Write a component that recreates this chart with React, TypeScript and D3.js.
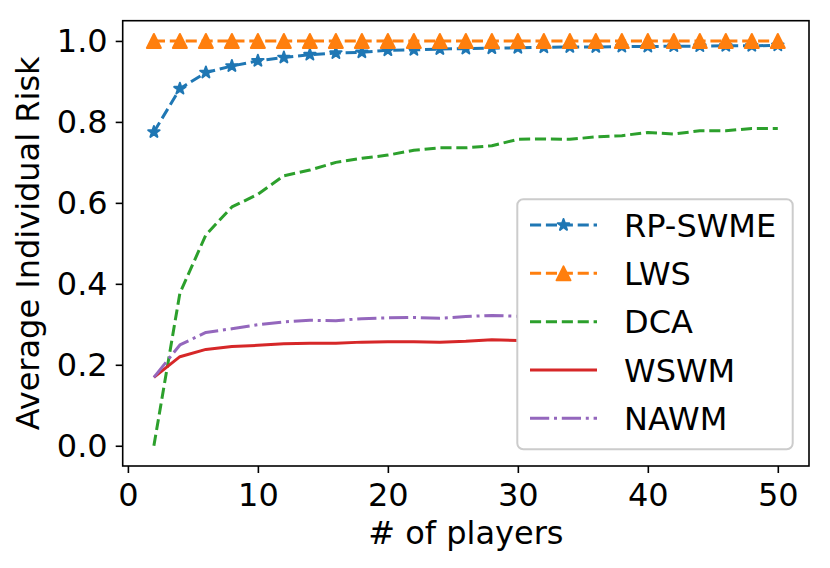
import { useEffect, useRef } from 'react';
import * as d3 from 'd3';

// # of players (x values)
const players = [2, 4, 6, 8, 10, 12, 14, 16, 18, 20, 22, 24, 26, 28, 30, 32, 34, 36, 38, 40, 42, 44, 46, 48, 50];

const rpSwme = [0.775, 0.882, 0.922, 0.938, 0.951, 0.959, 0.966, 0.970, 0.972, 0.977, 0.978, 0.980, 0.981,
  0.982, 0.983, 0.984, 0.985, 0.985, 0.986, 0.986, 0.987, 0.987, 0.988, 0.988, 0.989];
const lws = [1, 1, 1, 1, 1, 1, 1, 1, 1, 1, 1, 1, 1, 1, 1, 1, 1, 1, 1, 1, 1, 1, 1, 1, 1];
const dca = [0.0, 0.377, 0.521, 0.59, 0.621, 0.667, 0.681, 0.7, 0.71, 0.718, 0.73, 0.736, 0.736,
  0.741, 0.757, 0.758, 0.757, 0.763, 0.766, 0.774, 0.77, 0.778, 0.778, 0.784, 0.784];
const wswm = [0.169, 0.22, 0.238, 0.245, 0.248, 0.252, 0.253, 0.253, 0.256, 0.257, 0.257, 0.256, 0.258,
  0.262, 0.26, 0.261, 0.262, 0.262, 0.263, 0.263, 0.264, 0.264, 0.264, 0.265, 0.265];
const nawm = [0.169, 0.249, 0.28, 0.289, 0.299, 0.306, 0.31, 0.309, 0.314, 0.316, 0.317, 0.315, 0.319,
  0.322, 0.32, 0.322, 0.323, 0.324, 0.324, 0.325, 0.326, 0.326, 0.327, 0.327, 0.328];

const xTicks = [0, 10, 20, 30, 40, 50];
const yTicks = [0, 0.2, 0.4, 0.6, 0.8, 1.0];

type Series = {
  name: string;
  values: number[];
  color: string;
  dash: string | null;
  marker: 'star' | 'triangle' | null;
};

const series: Series[] = [
  { name: 'RP-SWME', values: rpSwme, color: '#1f77b4', dash: '11.1,4.8', marker: 'star' },
  { name: 'LWS', values: lws, color: '#ff7f0e', dash: '11.1,4.8', marker: 'triangle' },
  { name: 'DCA', values: dca, color: '#2ca02c', dash: '11.1,4.8', marker: null },
  { name: 'WSWM', values: wswm, color: '#d62728', dash: null, marker: null },
  { name: 'NAWM', values: nawm, color: '#9467bd', dash: '19.2,4.8,3,4.8', marker: null },
];

const FONT = "'DejaVu Sans', sans-serif";

// matplotlib-like marker paths centred on 0,0
function markerPath(kind: 'star' | 'triangle', r: number) {
  if (kind === 'triangle') {
    return `M0,${-r}L${r},${r}L${-r},${r}Z`;
  }
  const inner = r * 0.381966;
  const pts: string[] = [];
  for (let i = 0; i < 10; i++) {
    const a = (Math.PI / 5) * i - Math.PI / 2;
    const rr = i % 2 === 0 ? r : inner;
    pts.push(`${rr * Math.cos(a)},${rr * Math.sin(a)}`);
  }
  return `M${pts.join('L')}Z`;
}

export default function App() {
  const svgRef = useRef<SVGSVGElement>(null);
  const width = 830;
  const height = 568;

  useEffect(() => {
    if (!svgRef.current) return;
    const svg = d3.select(svgRef.current);
    svg.selectAll('*').remove();

    const left = 122.7, right = 809, top = 20.7, bottom = 466;

    const x = d3.scaleLinear().domain([-0.4, 52.4]).range([left, right]);
    const y = d3.scaleLinear().domain([-0.05, 1.05]).range([bottom, top]);

    svg.append('rect').attr('width', width).attr('height', height).attr('fill', '#fff');

    // x-axis
    const gx = svg.append('g')
      .attr('transform', `translate(0,${bottom})`)
      .call(d3.axisBottom(x).tickValues(xTicks).tickFormat(d3.format('d')).tickSize(7).tickSizeOuter(0).tickPadding(10));
    gx.select('.domain').remove();
    gx.selectAll('line').attr('stroke', '#000').attr('stroke-width', 1.6);
    gx.selectAll('text').attr('font-family', FONT).attr('font-size', 32).attr('fill', '#000');

    // y-axis
    const gy = svg.append('g')
      .attr('transform', `translate(${left},0)`)
      .call(d3.axisLeft(y).tickValues(yTicks).tickFormat(d3.format('.1f')).tickSize(7).tickSizeOuter(0).tickPadding(8));
    gy.select('.domain').remove();
    gy.selectAll('line').attr('stroke', '#000').attr('stroke-width', 1.6);
    gy.selectAll('text').attr('font-family', FONT).attr('font-size', 32).attr('fill', '#000').attr('dy', '0.34em');

    // lines
    const plot = svg.append('g');
    series.forEach(s => {
      const pts = players.map((p, i) => [p, s.values[i]] as [number, number]);
      const line = d3.line<[number, number]>().x(d => x(d[0])).y(d => y(d[1]));
      plot.append('path')
        .attr('d', line(pts))
        .attr('fill', 'none')
        .attr('stroke', s.color)
        .attr('stroke-width', 3)
        .attr('stroke-dasharray', s.dash)
        .attr('stroke-linejoin', 'round');
      if (s.marker) {
        const r = s.marker === 'star' ? 6 : 7;
        plot.selectAll(null)
          .data(pts)
          .enter().append('path')
          .attr('d', markerPath(s.marker, r))
          .attr('transform', d => `translate(${x(d[0])},${y(d[1])})`)
          .attr('fill', s.color)
          .attr('stroke', s.color)
          .attr('stroke-width', 2)
          .attr('stroke-linejoin', 'round');
      }
    });

    // frame
    svg.append('rect')
      .attr('x', left).attr('y', top)
      .attr('width', right - left).attr('height', bottom - top)
      .attr('fill', 'none').attr('stroke', '#000').attr('stroke-width', 1.6);

    // axis labels
    svg.append('text')
      .attr('x', (left + right) / 2).attr('y', 544)
      .attr('text-anchor', 'middle')
      .attr('font-family', FONT).attr('font-size', 32)
      .text('# of players');
    svg.append('text')
      .attr('transform', `translate(39,${(top + bottom) / 2}) rotate(-90)`)
      .attr('text-anchor', 'middle')
      .attr('font-family', FONT).attr('font-size', 32)
      .text('Average Individual Risk');

    // legend
    const lg = svg.append('g');
    lg.append('rect')
      .attr('x', 517.3).attr('y', 199.3)
      .attr('width', 275.4).attr('height', 250)
      .attr('rx', 6)
      .attr('fill', '#fff').attr('stroke', '#cccccc').attr('stroke-width', 2);
    const rowY = d3.scaleLinear().domain([0, 4]).range([225, 418.3]);
    series.forEach((s, i) => {
      const cy = rowY(i);
      lg.append('line')
        .attr('x1', 530).attr('x2', 597).attr('y1', cy).attr('y2', cy)
        .attr('stroke', s.color).attr('stroke-width', 3)
        .attr('stroke-dasharray', s.dash);
      if (s.marker) {
        const r = s.marker === 'star' ? 6 : 7;
        lg.append('path')
          .attr('d', markerPath(s.marker, r))
          .attr('transform', `translate(563.5,${cy})`)
          .attr('fill', s.color).attr('stroke', s.color).attr('stroke-width', 2)
          .attr('stroke-linejoin', 'round');
      }
      lg.append('text')
        .attr('x', 624).attr('y', cy + 11.7)
        .attr('font-family', FONT).attr('font-size', 32)
        .text(s.name);
    });
  }, []);

  return (
    <svg
      ref={svgRef}
      width={width}
      height={height}
      style={{ position: 'absolute', left: 0, top: 0 }}
    />
  );
}
